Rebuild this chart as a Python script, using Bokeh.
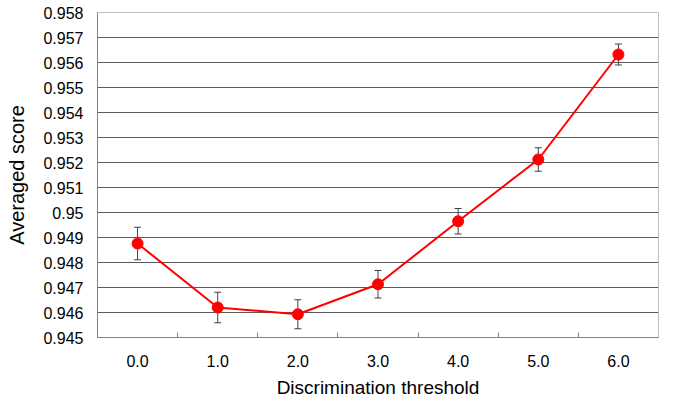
from bokeh.plotting import figure
from bokeh.models import ColumnDataSource, FixedTicker, Range1d, Whisker, TeeHead
from bokeh.embed import file_html
from bokeh.resources import INLINE

# ---- data ----
thresholds = [0, 1, 2, 3, 4, 5, 6]
threshold_labels = ["0.0", "1.0", "2.0", "3.0", "4.0", "5.0", "6.0"]
scores = [0.94876, 0.94620, 0.94593, 0.94713, 0.94965, 0.95212, 0.95632]
errors = [0.00065, 0.00061, 0.00058, 0.00055, 0.00051, 0.00047, 0.00042]
y_ticks = [0.945, 0.946, 0.947, 0.948, 0.949, 0.950, 0.951,
           0.952, 0.953, 0.954, 0.955, 0.956, 0.957, 0.958]
y_tick_labels = ["0.945", "0.946", "0.947", "0.948", "0.949", "0.95", "0.951",
                 "0.952", "0.953", "0.954", "0.955", "0.956", "0.957", "0.958"]
category_bounds = [0.5, 1.5, 2.5, 3.5, 4.5, 5.5]

src = ColumnDataSource(dict(
    x=thresholds, y=scores,
    upper=[s + e for s, e in zip(scores, errors)],
    lower=[s - e for s, e in zip(scores, errors)],
))

FONT = "Liberation Sans"

p = figure(width=680, height=403, output_backend="svg", toolbar_location=None,
           x_range=Range1d(-0.5, 6.5), y_range=Range1d(0.945, 0.958),
           min_border_left=97, min_border_right=22, min_border_top=12,
           min_border_bottom=66)
p.background_fill_color = "white"
p.border_fill_color = "white"
p.outline_line_color = "#c0c0c0"
p.outline_line_width = 1

# grid
p.xgrid.visible = False
p.ygrid.ticker = FixedTicker(ticks=y_ticks[1:-1])
p.ygrid.grid_line_color = "#5a5a5a"
p.ygrid.grid_line_width = 1

# x axis
xa = p.xaxis[0]
xa.ticker = FixedTicker(ticks=thresholds, minor_ticks=category_bounds)
xa.major_label_overrides = {t: l for t, l in zip(thresholds, threshold_labels)}
xa.major_tick_in = 0
xa.major_tick_out = 0
xa.minor_tick_in = 5
xa.minor_tick_out = 0
xa.minor_tick_line_color = "#808080"
xa.axis_line_color = "#808080"
xa.major_label_text_font = FONT
xa.major_label_text_font_size = "16px"
xa.major_label_text_color = "black"
xa.major_label_standoff = 17
xa.axis_label = "Discrimination threshold"
xa.axis_label_text_font = FONT
xa.axis_label_text_font_size = "19px"
xa.axis_label_text_font_style = "normal"
xa.axis_label_text_color = "black"
xa.axis_label_standoff = 7

# y axis
ya = p.yaxis[0]
ya.ticker = FixedTicker(ticks=y_ticks)
ya.major_label_overrides = {t: l for t, l in zip(y_ticks, y_tick_labels)}
ya.major_tick_in = 0
ya.major_tick_out = 0
ya.minor_tick_line_color = None
ya.axis_line_color = "#808080"
ya.major_label_text_font = FONT
ya.major_label_text_font_size = "16px"
ya.major_label_text_color = "black"
ya.major_label_standoff = 14
ya.axis_label = "Averaged score"
ya.axis_label_text_font = FONT
ya.axis_label_text_font_size = "20px"
ya.axis_label_text_font_style = "normal"
ya.axis_label_text_color = "black"
ya.axis_label_standoff = 12

# error bars
w = Whisker(source=src, base="x", upper="upper", lower="lower",
            line_color="#404040", line_width=1,
            upper_head=TeeHead(size=7, line_color="#404040", line_width=1),
            lower_head=TeeHead(size=7, line_color="#404040", line_width=1))
p.add_layout(w)

p.line("x", "y", source=src, line_color="#ff0000", line_width=2)
p.scatter("x", "y", source=src, size=11, fill_color="#ff0000",
          line_color="#ff0000", marker="circle")

open("out.html", "w").write(file_html(p, INLINE))
